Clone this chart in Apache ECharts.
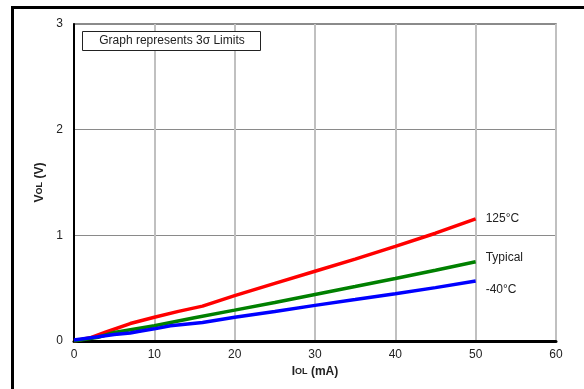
<!DOCTYPE html>
<html>
<head>
<meta charset="utf-8">
<script src="https://cdn.jsdelivr.net/npm/echarts@6/dist/echarts.min.js"></script>
<style>html,body{margin:0;padding:0;background:#fff}#c{width:584px;height:389px}</style>
</head>
<body>
<div id="c"></div>
<script>
const xTicks = [0, 10, 20, 30, 40, 50, 60];
const yTicks = [0, 1, 2, 3];
const hot125 = [[0,0],[2,0.03],[4,0.085],[7,0.165],[10,0.225],[13,0.28],[16,0.33],[20,0.43],[25,0.545],[30,0.66],[35,0.775],[40,0.895],[45,1.02],[50,1.155]];
const typical = [[0,0],[3,0.035],[5,0.08],[10,0.145],[15,0.22],[20,0.292],[25,0.365],[30,0.44],[35,0.515],[40,0.592],[45,0.67],[50,0.75]];
const cold40 = [[0,0.01],[3,0.04],[5,0.062],[7,0.075],[8,0.09],[10,0.115],[12,0.145],[16,0.175],[20,0.224],[25,0.28],[30,0.337],[35,0.392],[40,0.448],[45,0.505],[50,0.567]];
const seriesNames = ['125°C', 'Typical', '-40°C'];

const chart = echarts.init(document.getElementById('c'), null, {renderer: 'canvas'});
const font = 'Liberation Sans, Arial, sans-serif';
function mk(name, data, color, offset) {
  return {
    name: name, type: 'line', data: data, showSymbol: false, smooth: false,
    lineStyle: {color: color, width: 3.5}, itemStyle: {color: color},
    endLabel: {show: true, formatter: name, color: '#222', fontFamily: font, fontSize: 12, distance: 10, offset: offset},
    z: 5
  };
}
chart.setOption({
  animation: false,
  grid: {left: 74, top: 24, right: 28, bottom: 48, show: true, borderColor: '#666', borderWidth: 1.5},
  xAxis: {
    type: 'value', min: 0, max: 60, interval: 10,
    name: '{a|I}{b|OL}{a| (mA)}', nameLocation: 'middle', nameGap: 25,
    nameTextStyle: {rich: {a: {fontFamily: font, fontSize: 12, fontWeight: 'bold', color: '#222'}, b: {fontFamily: font, fontSize: 9, fontWeight: 'bold', color: '#222'}}},
    axisLine: {show: true, onZero: false, lineStyle: {color: '#000', width: 3}},
    axisTick: {show: false},
    axisLabel: {color: '#222', fontFamily: font, fontSize: 12, margin: 8},
    splitLine: {show: true, lineStyle: {color: '#c0c0c0', width: 2}}
  },
  yAxis: {
    type: 'value', min: 0, max: 3, interval: 1,
    name: '{a|V}{b|OL}{a| (V)}', nameLocation: 'middle', nameGap: 28, nameRotate: 90,
    nameTextStyle: {rich: {a: {fontFamily: font, fontSize: 12, fontWeight: 'bold', color: '#222'}, b: {fontFamily: font, fontSize: 9, fontWeight: 'bold', color: '#222'}}},
    axisLine: {show: true, onZero: false, lineStyle: {color: '#000', width: 2}},
    axisTick: {show: false},
    axisLabel: {color: '#222', fontFamily: font, fontSize: 12, margin: 11},
    splitLine: {show: true, lineStyle: {color: '#8a8a8a', width: 1}}
  },
  series: [
    mk(seriesNames[0], hot125, '#ff0000', [0, 0]),
    mk(seriesNames[1], typical, '#008000', [0, -4]),
    mk(seriesNames[2], cold40, '#0000ff', [0, 9])
  ],
  graphic: [
    {type: 'rect', shape: {x: 82.5, y: 31.5, width: 178, height: 19}, style: {fill: '#fff', stroke: '#222', lineWidth: 1}, z: 10},
    {type: 'text', x: 172, y: 41, style: {text: 'Graph represents 3σ Limits', fontFamily: font, fontSize: 12, fill: '#222', align: 'center', verticalAlign: 'middle'}, z: 11},
    {type: 'line', shape: {x1: 12, y1: 7.5, x2: 584, y2: 7.5}, style: {stroke: '#000', lineWidth: 3}, z: 10},
    {type: 'line', shape: {x1: 12.5, y1: 6, x2: 12.5, y2: 389}, style: {stroke: '#000', lineWidth: 3}, z: 10}
  ]
});
</script>
</body>
</html>
